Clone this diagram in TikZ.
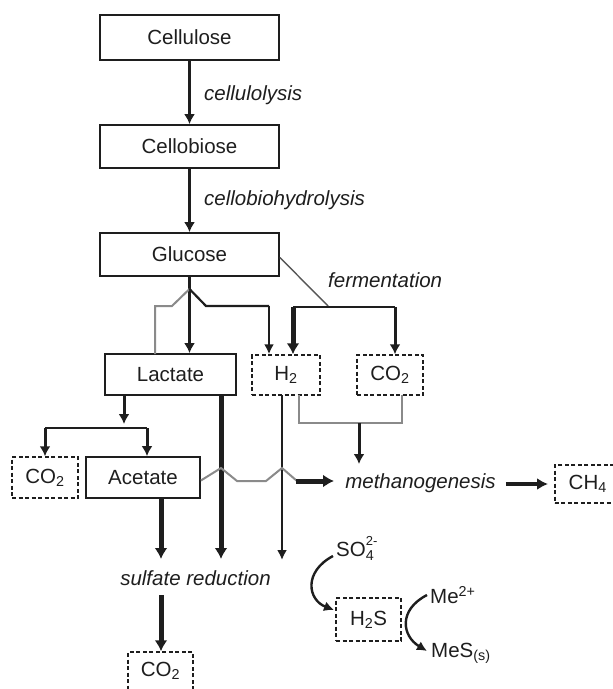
\documentclass[tikz,border=0pt]{standalone}
\usepackage{fontspec}
\setmainfont{Liberation Sans}
\usetikzlibrary{arrows.meta}
\definecolor{ink}{HTML}{1E1E1E}
\definecolor{lgray}{HTML}{8A8A8A}
\begin{document}
\begin{tikzpicture}[x=1pt,y=-1pt,
  every node/.style={font=\fontsize{20.5}{24}\selectfont, text=ink, inner sep=0pt},
  box/.style={draw=ink, line width=1.8pt, rectangle},
  dbox/.style={draw=ink, line width=1.5pt, dash pattern=on 4pt off 2.5pt, rectangle},
  lbl/.style={font=\fontsize{20.5}{24}\selectfont\itshape},
  med/.style={draw=ink, line width=3pt, -{Latex[length=10pt,width=11pt]}},
  thk/.style={draw=ink, line width=5pt, -{Latex[length=11pt,width=13pt]}},
  thn/.style={draw=ink, line width=2.6pt, -{Latex[length=10pt,width=10pt]}},
  blk/.style={draw=ink, line width=2.2pt},
  gln/.style={draw=lgray, line width=2pt},
  fln/.style={draw=ink!75, line width=1.4pt},
  curv/.style={draw=ink, line width=2.4pt, -{Latex[length=10pt,width=10pt]}}
]
\useasboundingbox (0,0) rectangle (613,689);
\clip (0,0) rectangle (613,689);

% boxes
\node[box, minimum width=179pt, minimum height=45pt] (cellulose) at (189.5,37.5) {Cellulose};
\node[box, minimum width=179pt, minimum height=43pt] (cellobiose) at (189.5,146.5) {Cellobiose};
\node[box, minimum width=179pt, minimum height=43pt] (glucose) at (189.5,254.5) {Glucose};
\node[box, minimum width=131pt, minimum height=41pt] (lactate) at (170.5,374.5) {Lactate};
\node[dbox, minimum width=68pt, minimum height=40pt] (h2) at (286,375) {H\textsubscript{2}};
\node[dbox, minimum width=66pt, minimum height=40pt] (co2a) at (390,375) {CO\textsubscript{2}};
\node[dbox, minimum width=66pt, minimum height=41pt] (co2b) at (45,477.5) {CO\textsubscript{2}};
\node[box, minimum width=114pt, minimum height=41pt] (acetate) at (143,477.5) {Acetate};
\node[lbl] (meth) at (420.5,483) {methanogenesis};
\node[dbox, minimum width=66pt, minimum height=38pt, anchor=west] (ch4) at (554,484) {CH\textsubscript{4}};
\node[lbl] (sulf) at (195.5,578) {sulfate reduction};
\node[dbox, minimum width=65pt, minimum height=38pt] (co2c) at (160.5,671) {CO\textsubscript{2}};
\node[anchor=west] (so4) at (336,548) {SO\rlap{\raisebox{1.1ex}{\fontsize{13}{14}\selectfont 2-}}\textsubscript{4}};
\node[dbox, minimum width=65pt, minimum height=43pt] (h2s) at (368.5,619.5) {H\textsubscript{2}S};
\node[anchor=west] (me) at (430,595) {Me\textsuperscript{2+}};
\node[anchor=west] (mes) at (431,653) {MeS\textsubscript{(s)}};

% labels
\node[lbl, anchor=west] (l1) at (204,95) {cellulolysis};
\node[lbl, anchor=west] (l2) at (204,200) {cellobiohydrolysis};
\node[lbl, anchor=west] (l3) at (328,280) {fermentation};

% main chain
\draw[med] (cellulose.south) -- (cellobiose.north);
\draw[med] (cellobiose.south) -- (glucose.north);
\draw[med] (glucose.south) -- (glucose.south |- lactate.north);

% bridge glucose -> H2
\coordinate (pk) at (189.5,289);
\draw[gln] (155,354) -- (155,306) -- (172,306) -- (pk);
\draw[blk] (pk) -- (206,306) -- (269,306);
\coordinate (h2a) at (269,306);
\draw[thn] (h2a) -- (h2a |- h2.north);

% fermentation
\coordinate (fj) at (329,307);
\draw[fln] (glucose.east) ++(0,3) -- (fj);
\draw[blk] (293,307) -- (395,307);
\coordinate (f1) at (293,307);
\coordinate (f2) at (395,307);
\draw[thk] (f1) -- (f1 |- h2.north);
\draw[med] (f2) -- (f2 |- co2a.north);

% lactate split
\coordinate (ls) at (124,395);
\draw[med] (ls) -- (124,424);
\draw[blk] (45,428) -- (147,428);
\coordinate (s1) at (45,428);
\coordinate (s2) at (147,428);
\draw[med] (s1) -- (s1 |- co2b.north);
\draw[med] (s2) -- (s2 |- acetate.north);

% to sulfate reduction
\coordinate (lv) at (221,395);
\draw[thk] (lv) -- (221,559);
\coordinate (hv) at (282,395);
\draw[thn] (hv) -- (282,560);
\coordinate (av) at (161,498);
\draw[thk] (av) -- (161,559);
\coordinate (sv) at (161,595);
\draw[thk] (sv) -- (sv |- co2c.north);

% H2 + CO2 -> methanogenesis
\draw[gln] (299,395) -- (299,423) -- (402,423) -- (402,395);
\coordinate (mj) at (359,423);
\draw[med] (mj) -- (359,464);

% acetate -> methanogenesis (wave)
\draw[gln] (acetate.east) ++(0,3) -- (221,468) -- (237,481) -- (266,481) -- (282,468) -- (297,481);
\coordinate (w1) at (296,481);
\draw[thk] (w1) -- (334,481);
\draw[line width=4pt, draw=ink, -{Latex[length=11pt,width=12pt]}] (meth.east) ++(10,1) -- (548,484);

% sulfide chemistry
\draw[curv] (333,556) .. controls (303,572) and (308,600) .. (334,610);
\draw[curv] (427,595) .. controls (398,610) and (402,636) .. (427,651);
\end{tikzpicture}
\end{document}
